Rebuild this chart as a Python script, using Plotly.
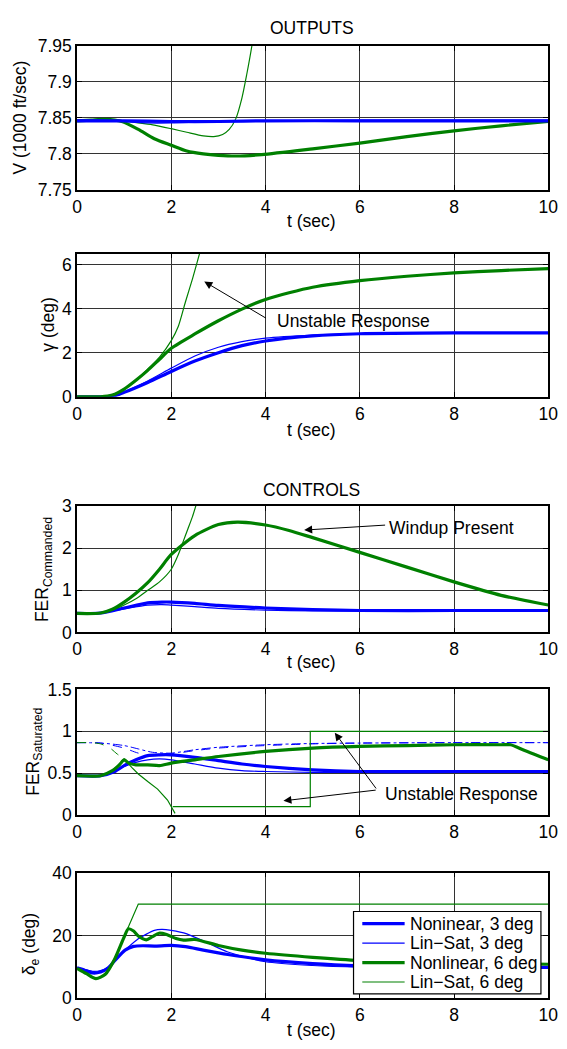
import plotly.graph_objects as go

FONT = "Liberation Sans, Arial, Helvetica, sans-serif"
BLUE = "#0000ff"
GREEN = "#008000"
FS = 17.5

# ---------------- Data ----------------
# Sub 1: V (1000 ft/sec)
t_v_nl3 = [0, 1, 2, 3, 4, 6, 8, 10]
v_nl3 = [7.846, 7.846, 7.845, 7.845, 7.846, 7.846, 7.846, 7.846]
t_v_ls3 = [0, 0.5, 1, 1.5, 2, 2.5, 3, 4, 6, 10]
v_ls3 = [7.847, 7.847, 7.845, 7.843, 7.843, 7.844, 7.845, 7.846, 7.847, 7.847]
t_v_nl6 = [0, 0.3, 0.6, 0.95, 1.3, 1.64, 2.0, 2.33, 2.68, 3.0, 3.37, 3.92, 5, 6, 7, 8, 9, 10]
v_nl6 = [7.846, 7.847, 7.848, 7.845, 7.834, 7.821, 7.812, 7.804, 7.800, 7.798, 7.797, 7.799,
         7.807, 7.815, 7.824, 7.832, 7.839, 7.845]
t_v_ls6 = [0, 0.3, 0.6, 1.0, 1.3, 1.64, 2.0, 2.33, 2.68, 2.9, 3.09, 3.23, 3.37, 3.5, 3.6, 3.71, 3.8]
v_ls6 = [7.847, 7.847, 7.848, 7.846, 7.843, 7.840, 7.835, 7.830, 7.825, 7.824, 7.827, 7.834,
         7.849, 7.878, 7.910, 7.950, 7.990]

# Sub 2: gamma (deg)
t_g_nl3 = [0, 0.6, 0.8, 1.0, 1.5, 2.0, 2.5, 3.0, 3.5, 4.0, 5.0, 6.0, 8.0, 10.0]
g_nl3 = [0, 0, 0.05, 0.2, 0.65, 1.15, 1.62, 2.0, 2.32, 2.53, 2.76, 2.86, 2.9, 2.9]
t_g_ls3 = [0, 0.6, 0.8, 1.0, 1.5, 2.0, 2.5, 3.0, 3.5, 4.0, 5.0, 6.0, 8.0, 10.0]
g_ls3 = [0, 0, 0.05, 0.22, 0.72, 1.3, 1.85, 2.25, 2.5, 2.66, 2.8, 2.87, 2.9, 2.9]
t_g_nl6 = [0, 0.5, 0.75, 1.0, 1.25, 1.5, 1.75, 2.0, 2.5, 3.0, 3.5, 4.0, 4.5, 5.0, 6.0, 7.0, 8.0, 9.0, 10.0]
g_nl6 = [0, 0, 0.08, 0.35, 0.75, 1.2, 1.7, 2.2, 2.85, 3.45, 3.98, 4.42, 4.72, 4.97, 5.27, 5.47,
         5.62, 5.73, 5.82]
t_g_ls6 = [0, 0.5, 0.75, 1.0, 1.25, 1.5, 1.75, 2.0, 2.15, 2.3, 2.45, 2.6, 2.7]
g_ls6 = [0, 0, 0.08, 0.35, 0.75, 1.25, 1.8, 2.55, 3.2, 4.3, 5.35, 6.5, 7.3]

# Sub 3: FER commanded
t_fc_nl3 = [0, 0.5, 1.0, 1.5, 1.8, 2.0, 2.5, 3, 4, 5, 6, 8, 10]
fc_nl3 = [0.45, 0.46, 0.58, 0.70, 0.72, 0.72, 0.69, 0.64, 0.58, 0.54, 0.52, 0.52, 0.52]
t_fc_ls3 = [0, 0.5, 1.0, 1.5, 1.8, 2.0, 2.5, 3, 4, 5, 6, 8, 10]
fc_ls3 = [0.45, 0.46, 0.56, 0.65, 0.66, 0.65, 0.61, 0.57, 0.53, 0.51, 0.51, 0.51, 0.51]
t_fc_nl6 = [0, 0.5, 0.75, 1.0, 1.25, 1.5, 1.75, 2.0, 2.5, 3.0, 3.4, 4.0, 4.5, 5.0, 6.0, 7.0, 8.0, 9.0, 10.0]
fc_nl6 = [0.45, 0.46, 0.55, 0.72, 0.93, 1.18, 1.5, 1.85, 2.3, 2.56, 2.62, 2.55, 2.42, 2.25, 1.9,
          1.55, 1.2, 0.88, 0.65]
t_fc_ls6 = [0, 0.5, 0.75, 1.0, 1.25, 1.5, 1.75, 2.0, 2.15, 2.25, 2.35, 2.45, 2.52, 2.6]
fc_ls6 = [0.45, 0.46, 0.53, 0.65, 0.8, 1.0, 1.2, 1.5, 1.85, 2.15, 2.45, 2.75, 3.0, 3.3]

# Sub 4: FER saturated
t_fs_nl3 = [0, 0.5, 0.8, 1.0, 1.25, 1.5, 1.75, 2.0, 2.5, 3, 3.5, 4, 5, 6, 8, 10]
fs_nl3 = [0.47, 0.47, 0.52, 0.59, 0.66, 0.71, 0.72, 0.72, 0.69, 0.65, 0.61, 0.58, 0.54, 0.52, 0.52, 0.52]
t_fs_ls3 = [0, 0.5, 0.8, 1.0, 1.25, 1.5, 1.75, 2.0, 2.5, 3, 3.5, 4, 5, 6, 10]
fs_ls3 = [0.47, 0.47, 0.52, 0.58, 0.63, 0.66, 0.67, 0.66, 0.61, 0.56, 0.53, 0.52, 0.51, 0.51, 0.51]
t_lim_a = [0, 0.5, 1.0, 1.3, 1.6, 2.0, 2.5, 3, 4, 5, 6, 8, 10]
lim_a = [0.865, 0.86, 0.80, 0.74, 0.72, 0.73, 0.77, 0.80, 0.83, 0.85, 0.86, 0.865, 0.865]
t_lim_b = [0, 0.5, 1.0, 1.3, 1.6, 2.0, 2.5, 3, 4, 5, 6, 8, 10]
lim_b = [0.865, 0.86, 0.83, 0.79, 0.75, 0.74, 0.78, 0.81, 0.84, 0.855, 0.86, 0.865, 0.865]
t_fs_nl6 = [0, 0.5, 0.75, 0.9, 1.0, 1.1, 1.25, 1.5, 1.75, 2.0, 2.5, 3, 4, 5, 6, 7, 8, 9, 9.2, 9.5, 10]
fs_nl6 = [0.47, 0.47, 0.53, 0.6, 0.66, 0.62, 0.6, 0.6, 0.59, 0.62, 0.66, 0.7, 0.76, 0.8, 0.82, 0.83,
          0.84, 0.84, 0.84, 0.77, 0.66]
t_fs_ls6 = [0, 0.5, 0.75, 0.9, 1.0, 1.16, 1.3, 1.5, 1.71, 1.92, 2.08, None, 2.03, 4.95, 4.95, 10]
fs_ls6 = [0.47, 0.47, 0.53, 0.61, 0.67, 0.57, 0.49, 0.4, 0.31, 0.18, 0.02, None, 0.1, 0.1, 1.0, 1.0]
t_lim_6 = [0, 0.3, 0.5, 0.7, 0.85, 1.0]
lim_6 = [0.865, 0.865, 0.85, 0.8, 0.73, 0.67]

# Sub 5: delta_e (deg)
t_d_nl3 = [0, 0.15, 0.33, 0.5, 0.65, 0.81, 1.02, 1.2, 1.4, 1.64, 2.0, 2.3, 2.68, 3.2, 4, 5, 6, 7, 8, 10]
d_nl3 = [9.7, 9.0, 8.0, 8.3, 9.5, 12.1, 15.3, 16.5, 16.7, 16.6, 16.8, 16.4, 15.3, 13.9, 12.2, 11.0,
         10.3, 10.0, 9.9, 9.8]
t_d_ls3 = [0, 0.15, 0.35, 0.5, 0.65, 0.81, 1.02, 1.3, 1.64, 1.8, 2.0, 2.33, 2.8, 3.2, 4, 5, 6, 7, 8, 10]
d_ls3 = [9.7, 9.2, 8.5, 8.8, 9.8, 12.3, 15.3, 18.9, 21.6, 21.9, 21.6, 20.5, 17.4, 14.7, 11.6, 10.4,
         9.9, 9.8, 9.7, 9.6]
t_d_nl6 = [0, 0.2, 0.4, 0.6, 0.8, 1.0, 1.09, 1.2, 1.3, 1.47, 1.6, 1.74, 1.9, 2.1, 2.26, 2.5, 3, 3.5,
           4, 5, 6, 7, 8, 9, 10]
d_nl6 = [9.5, 7.8, 6.2, 7.6, 12.5, 19.5, 22.1, 21.4, 19.8, 18.6, 19.6, 20.7, 20.3, 19.0, 18.5, 18.7,
         16.8, 15.3, 14.3, 13.0, 12.0, 11.6, 11.3, 11.0, 10.8]
t_d_ls6 = [0, 0.1, 0.2, 0.3, 0.4, 0.5, 0.6, 0.7, 0.81, 1.3, 10]
d_ls6 = [9.5, 8.8, 7.8, 6.8, 6.3, 6.6, 7.8, 10.0, 13.0, 30, 30]

legend_names = ["Noninear, 3 deg", "Lin\u2212Sat, 3 deg", "Nonlinear, 6 deg", "Lin\u2212Sat, 6 deg"]

x_ticks = [0, 2, 4, 6, 8, 10]
y_ticks = [
    ([7.75, 7.8, 7.85, 7.9, 7.95], ["7.75", "7.8", "7.85", "7.9", "7.95"], [7.75, 7.95]),
    ([0, 2, 4, 6], ["0", "2", "4", "6"], [0, 6.5]),
    ([0, 1, 2, 3], ["0", "1", "2", "3"], [0, 3]),
    ([0, 0.5, 1, 1.5], ["0", "0.5", "1", "1.5"], [0, 1.5]),
    ([0, 20, 40], ["0", "20", "40"], [0, 40]),
]

# ---------------- Figure ----------------
W, H = 567, 1049
fig = go.Figure()

THICK, THIN = 3.2, 1.2
legend_styles = [(BLUE, THICK), (BLUE, THIN), (GREEN, THICK), (GREEN, THIN)]


def add(ax, t, y, color, width, dash="solid", shape="spline", name=None):
    fig.add_trace(go.Scatter(
        x=t, y=y, mode="lines", xaxis="x" + ("" if ax == 1 else str(ax)),
        yaxis="y" + ("" if ax == 1 else str(ax)),
        line=dict(color=color, width=width, dash=dash, shape=shape, smoothing=0.7),
        name=name, showlegend=False, connectgaps=False, hoverinfo="skip"))


# sub1
add(1, t_v_ls6, v_ls6, GREEN, THIN)
add(1, t_v_nl6, v_nl6, GREEN, THICK)
add(1, t_v_nl3, v_nl3, BLUE, THICK)
add(1, t_v_ls3, v_ls3, BLUE, THIN)
# sub2
add(2, t_g_nl3, g_nl3, BLUE, THICK)
add(2, t_g_ls3, g_ls3, BLUE, THIN)
add(2, t_g_nl6, g_nl6, GREEN, THICK)
add(2, t_g_ls6, g_ls6, GREEN, THIN)
# sub3
add(3, t_fc_nl3, fc_nl3, BLUE, THICK)
add(3, t_fc_ls3, fc_ls3, BLUE, THIN)
add(3, t_fc_nl6, fc_nl6, GREEN, THICK)
add(3, t_fc_ls6, fc_ls6, GREEN, THIN)
# sub4
add(4, t_lim_a, lim_a, BLUE, 1.0, dash="dash")
add(4, t_lim_b, lim_b, BLUE, 1.0, dash="dashdot")
add(4, t_fs_nl3, fs_nl3, BLUE, THICK)
add(4, t_fs_ls3, fs_ls3, BLUE, THIN)
add(4, t_lim_6, lim_6, GREEN, 1.0, dash="dash")
add(4, t_fs_nl6, fs_nl6, GREEN, THICK)
add(4, t_fs_ls6, fs_ls6, GREEN, THIN, shape="linear")
# sub5
add(5, t_d_nl3, d_nl3, BLUE, THICK, name=legend_names[0])
add(5, t_d_ls3, d_ls3, BLUE, THIN, name=legend_names[1])
add(5, t_d_nl6, d_nl6, GREEN, THICK, name=legend_names[2])
add(5, t_d_ls6, d_ls6, GREEN, THIN, shape="linear", name=legend_names[3])

# plot-area positions in pixels (top, bottom)
areas = [(36.7, 183.3), (248.3, 394.3), (505.7, 634.5), (692.7, 820.7), (879.5, 1007.3)]
x0px, x1px = 74, 558

axis_common = dict(showline=True, linecolor="black", linewidth=1.5, mirror="ticks",
                   ticks="inside", ticklen=5, tickcolor="black", showgrid=True,
                   gridcolor="#333333", gridwidth=1, zeroline=False,
                   ticklabeloverflow="allow",
                   tickfont=dict(family=FONT, size=FS, color="black"))

layout = dict(width=W, height=H, margin=dict(l=0, r=0, t=0, b=0, pad=0),
              paper_bgcolor="white", plot_bgcolor="white", showlegend=False,
              font=dict(family=FONT, size=FS, color="black"))
for i, (top, bot) in enumerate(areas, start=1):
    sfx = "" if i == 1 else str(i)
    tv, tt, rng = y_ticks[i - 1]
    layout["xaxis" + sfx] = dict(axis_common, domain=[x0px / W, x1px / W], range=[0, 10],
                                 tickvals=x_ticks, ticktext=[str(v) for v in x_ticks],
                                 anchor="y" + sfx)
    layout["yaxis" + sfx] = dict(axis_common, domain=[1 - bot / H, 1 - top / H], range=rng,
                                 tickvals=tv, ticktext=tt, anchor="x" + sfx)
fig.update_layout(**layout)


def ptext(text, xpx, ypx, angle=0, size=FS, xanchor="center"):
    fig.add_annotation(text=text, x=xpx / W, y=1 - ypx / H, xref="paper", yref="paper",
                       showarrow=False, textangle=angle, xanchor=xanchor, yanchor="middle",
                       font=dict(family=FONT, size=size, color="black"))


ptext("OUTPUTS", 315, 18)
ptext("CONTROLS", 315, 489)
for ypx in [215, 428, 665, 1040]:
    ptext("t (sec)", 315, ypx)
ptext("V (1000 ft/sec)", 15, 110, angle=-90)
ptext("\u03b3 (deg)", 44, 321, angle=-90)
ptext("FER<sub>Commanded</sub>", 39, 570, angle=-90)
ptext("FER<sub>Saturated</sub>", 30, 756, angle=-90)
ptext("\u03b4<sub>e</sub> (deg)", 27, 952, angle=-90)

# legend box (drawn in the lower axes area)
lg_left, lg_right, lg_top, lg_bot = 358, 550.5, 919, 1003
fig.add_shape(type="rect", xref="paper", yref="paper", x0=lg_left / W, x1=lg_right / W,
              y0=1 - lg_bot / H, y1=1 - lg_top / H, line=dict(color="black", width=1.2),
              fillcolor="white", layer="above")
for k, (name, (col, wid)) in enumerate(zip(legend_names, legend_styles)):
    yc = lg_top + (lg_bot - lg_top) * (0.148 + 0.236 * k)
    fig.add_shape(type="line", xref="paper", yref="paper", x0=367 / W, x1=410.5 / W,
                  y0=1 - yc / H, y1=1 - yc / H, line=dict(color=col, width=wid), layer="above")
    ptext(name, 414, yc, xanchor="left")


def dtext(text, ax, x, y):
    fig.add_annotation(text=text, x=x, y=y, xref="x" + ax, yref="y" + ax, showarrow=False,
                       xanchor="left", yanchor="middle",
                       font=dict(family=FONT, size=FS, color="black"))


def arrow(ax, x_tail, y_tail, x_head, y_head):
    fig.add_annotation(text="", x=x_head, y=y_head, ax=x_tail, ay=y_tail,
                       xref="x" + ax, yref="y" + ax, axref="x" + ax, ayref="y" + ax,
                       showarrow=True, arrowhead=2, arrowsize=1.6, arrowwidth=1,
                       arrowcolor="black")


dtext("Unstable Response", "2", 4.2, 3.45)
arrow("2", 4.04, 3.53, 2.70, 5.23)
dtext("Windup Present", "3", 6.58, 2.47)
arrow("3", 6.57, 2.55, 4.82, 2.43)
dtext("Unstable Response", "4", 6.5, 0.254)
arrow("4", 6.37, 0.30, 5.47, 0.984)
arrow("4", 6.37, 0.30, 4.38, 0.17)

fig.write_html("out.html",
               post_script="document.body.style.margin='0';document.body.style.padding='0';"
                           "document.documentElement.style.overflow='hidden';")
